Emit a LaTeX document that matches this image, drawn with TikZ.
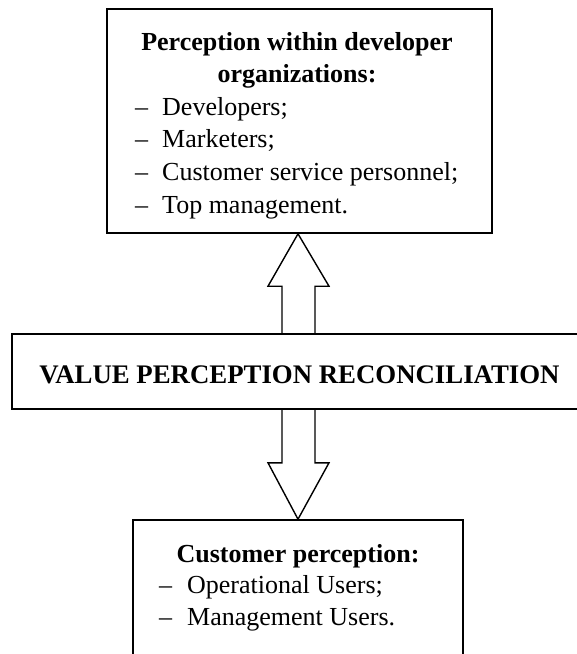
\documentclass[tikz,border=0pt]{standalone}
\usepackage{fontspec}
\setmainfont{Liberation Serif}
\usetikzlibrary{calc}
\begin{document}
\begin{tikzpicture}[x=1pt,y=-1pt,
  box/.style={draw, line width=1.6pt, inner sep=0pt},
  txt/.style={inner sep=0pt, font=\fontsize{26}{31}\selectfont},
  btxt/.style={inner sep=0pt, font=\fontsize{26}{31}\selectfont\bfseries},
  arrowshape/.style={draw, line width=1.4pt, line join=miter}]
\clip (0,0) rectangle (577,654);
% boxes
\node[box, minimum width=385pt, minimum height=224pt] (top) at (299.5,121) {};
\node[box, minimum width=575pt, minimum height=75pt] (mid) at (299.5,371.5) {};
\node[box, minimum width=330pt, minimum height=170pt] (bot) at (298,605) {};
% top box text
\node[btxt, anchor=base] (t1) at (297,50) {Perception within developer};
\node[btxt, anchor=base] (t2) at (297,82) {organizations:};
\node[txt, anchor=base west] (l1) at (135,115) {\makebox[27pt][l]{–}Developers;};
\node[txt, anchor=base west] (l2) at (135,147) {\makebox[27pt][l]{–}Marketers;};
\node[txt, anchor=base west] (l3) at (135,180) {\makebox[27pt][l]{–}Customer service personnel;};
\node[txt, anchor=base west] (l4) at (135,213) {\makebox[27pt][l]{–}Top management.};
% middle text
\node[btxt, font=\fontsize{26.8}{31}\selectfont\bfseries, anchor=base] (mt) at (299.5,383) {VALUE PERCEPTION RECONCILIATION};
% bottom box text
\node[btxt, anchor=base] (b1) at (298,562) {Customer perception:};
\node[txt, anchor=base west] (b2) at (159,593) {\makebox[28pt][l]{–}Operational Users;};
\node[txt, anchor=base west] (b3) at (159,625) {\makebox[28pt][l]{–}Management Users.};
% up arrow (middle -> top)
\draw[arrowshape] ($(mid.north)+(-17.5,0)$) -- ++(0,-47) -- ++(-14,0)
  -- ($(top.south)+(-1.5,0)$) -- ($(mid.north)+(29.5,-47)$) -- ++(-14,0)
  -- ($(mid.north)+(15.5,0)$);
% down arrow (middle -> bottom)
\draw[arrowshape] ($(mid.south)+(-17.5,0)$) -- ++(0,53) -- ++(-14,0)
  -- (bot.north) -- ($(mid.south)+(29.5,53)$) -- ++(-14,0)
  -- ($(mid.south)+(15.5,0)$);
\end{tikzpicture}
\end{document}
